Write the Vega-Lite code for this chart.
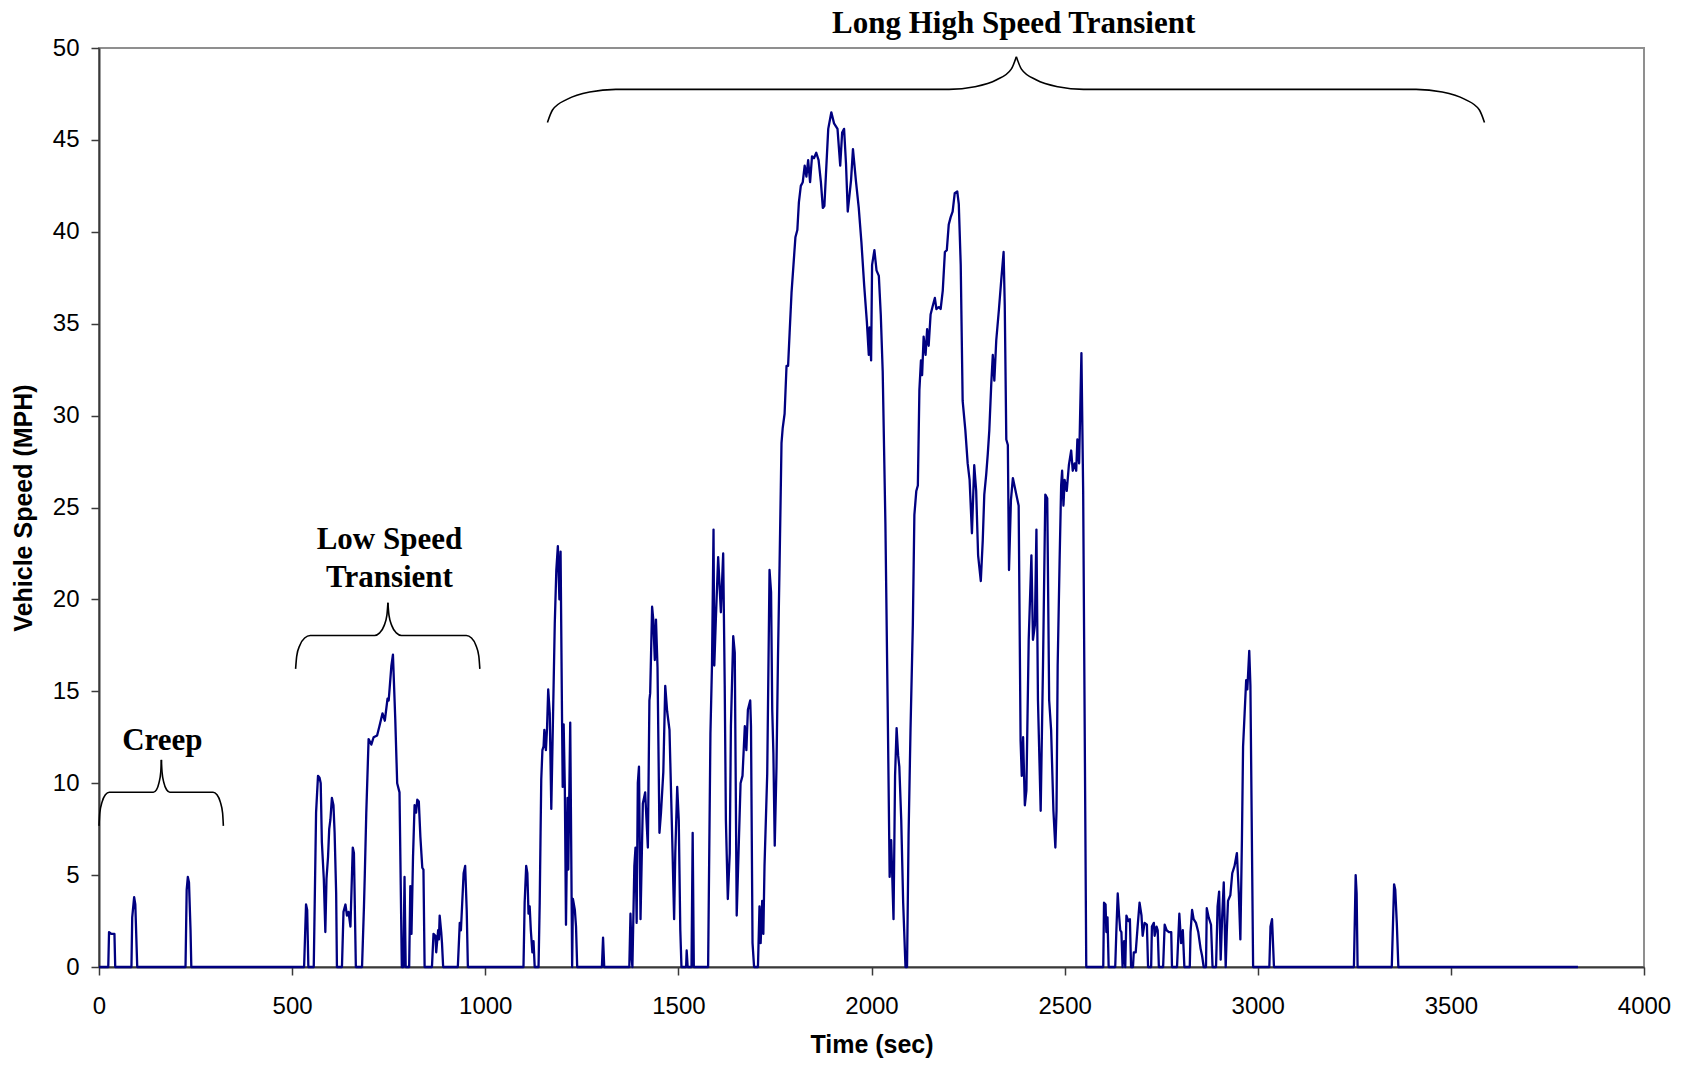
{
  "$schema": "https://vega.github.io/schema/vega-lite/v6.json",
  "width": 1545,
  "height": 919,
  "autosize": {"type": "none"},
  "padding": {"left": 99, "top": 48, "right": 42, "bottom": 99},
  "background": "white",
  "config": {
    "view": {"stroke": "#8f8f8f", "strokeWidth": 2},
    "axis": {
      "grid": false,
      "domainColor": "#3a3a3a",
      "domainWidth": 2,
      "tickColor": "#3a3a3a",
      "tickWidth": 1.5,
      "tickSize": 8,
      "labelFont": "Liberation Sans",
      "labelFontSize": 24,
      "labelColor": "#000000",
      "labelFlush": false,
      "labelOverlap": false,
      "titleFont": "Liberation Sans",
      "titleFontSize": 25,
      "titleFontWeight": "bold",
      "titleColor": "#000000"
    }
  },
  "datasets": {
    "speed": [
      {"t":0,"v":0},{"t":24,"v":0},{"t":26,"v":1.9},{"t":32,"v":1.8},{"t":40,"v":1.8},{"t":42,"v":0},
      {"t":84,"v":0},{"t":86,"v":2.7},{"t":91,"v":3.8},{"t":94,"v":3.4},{"t":99,"v":0},
      {"t":224,"v":0},{"t":227,"v":4.2},{"t":230,"v":4.9},{"t":233,"v":4.6},{"t":237,"v":2.0},{"t":239,"v":0},
      {"t":531,"v":0},{"t":536,"v":3.4},{"t":539,"v":3.1},{"t":542,"v":0},
      {"t":556,"v":0},{"t":562,"v":8.4},{"t":567,"v":10.4},{"t":571,"v":10.3},{"t":574,"v":10.0},{"t":577,"v":6.8},{"t":582,"v":4.8},{"t":586,"v":1.9},{"t":589,"v":4.8},{"t":593,"v":6.0},{"t":596,"v":7.5},{"t":599,"v":8.0},{"t":603,"v":9.2},{"t":607,"v":8.8},{"t":610,"v":7.3},{"t":614,"v":4.0},{"t":616,"v":0},
      {"t":629,"v":0},{"t":633,"v":3.0},{"t":638,"v":3.4},{"t":642,"v":2.8},{"t":646,"v":3.0},{"t":651,"v":2.2},{"t":657,"v":6.5},{"t":660,"v":6.2},{"t":665,"v":0},
      {"t":681,"v":0},{"t":686,"v":3.3},{"t":688,"v":4.9},{"t":692,"v":8.4},{"t":698,"v":12.4},{"t":705,"v":12.1},{"t":711,"v":12.5},{"t":720,"v":12.6},{"t":726,"v":13.1},{"t":734,"v":13.8},{"t":740,"v":13.4},{"t":747,"v":14.6},{"t":750,"v":14.5},{"t":757,"v":16.4},{"t":761,"v":17.0},{"t":767,"v":13.5},{"t":772,"v":10.0},{"t":778,"v":9.5},{"t":784,"v":0},
      {"t":788,"v":0},{"t":791,"v":4.9},{"t":794,"v":0},{"t":803,"v":0},{"t":806,"v":4.4},{"t":809,"v":1.8},{"t":813,"v":6.0},{"t":817,"v":8.8},{"t":821,"v":8.4},{"t":824,"v":9.1},{"t":828,"v":9.0},{"t":832,"v":7.1},{"t":837,"v":5.4},{"t":840,"v":5.3},{"t":843,"v":0},
      {"t":862,"v":0},{"t":866,"v":1.8},{"t":871,"v":1.7},{"t":873,"v":0.8},{"t":878,"v":2.0},{"t":880,"v":1.5},{"t":882,"v":2.8},{"t":886,"v":1.9},{"t":888,"v":1.3},{"t":891,"v":0},
      {"t":929,"v":0},{"t":934,"v":2.4},{"t":937,"v":2.0},{"t":944,"v":5.1},{"t":948,"v":5.5},{"t":952,"v":3.1},{"t":955,"v":0},
      {"t":1099,"v":0},{"t":1102,"v":3.5},{"t":1106,"v":5.5},{"t":1109,"v":5.1},{"t":1112,"v":2.9},{"t":1115,"v":3.3},{"t":1118,"v":2.0},{"t":1122,"v":0.8},{"t":1125,"v":1.4},{"t":1128,"v":0},
      {"t":1138,"v":0},{"t":1141,"v":3.5},{"t":1143,"v":6.9},{"t":1145,"v":10.2},{"t":1148,"v":11.8},{"t":1151,"v":12.0},{"t":1153,"v":12.9},{"t":1157,"v":11.8},{"t":1160,"v":13.0},{"t":1163,"v":15.1},{"t":1167,"v":13.8},{"t":1171,"v":8.6},{"t":1175,"v":13.1},{"t":1180,"v":18.7},{"t":1184,"v":21.6},{"t":1188,"v":22.9},{"t":1192,"v":20.0},{"t":1195,"v":22.6},{"t":1199,"v":13.1},{"t":1200.5,"v":9.8},{"t":1203,"v":13.2},{"t":1206,"v":9.8},{"t":1209,"v":2.3},{"t":1213,"v":9.2},{"t":1215,"v":5.3},{"t":1220,"v":13.3},{"t":1225,"v":0},{"t":1227,"v":3.7},{"t":1232,"v":3.1},{"t":1235,"v":2.2},{"t":1238,"v":0},
      {"t":1302,"v":0},{"t":1305,"v":1.6},{"t":1308,"v":0},
      {"t":1373,"v":0},{"t":1376,"v":2.9},{"t":1379,"v":0.5},{"t":1381,"v":0},{"t":1386,"v":5.5},{"t":1389,"v":6.5},{"t":1392,"v":2.4},{"t":1395,"v":10.0},{"t":1398,"v":10.9},{"t":1402,"v":2.6},{"t":1408,"v":8.9},{"t":1414,"v":9.5},{"t":1421,"v":6.5},{"t":1425,"v":14.5},{"t":1427,"v":14.9},{"t":1432,"v":19.6},{"t":1435,"v":18.9},{"t":1439,"v":16.7},{"t":1442,"v":18.9},{"t":1446,"v":16.3},{"t":1451,"v":7.3},{"t":1455,"v":8.4},{"t":1461,"v":10.6},{"t":1466,"v":15.3},{"t":1471,"v":13.9},{"t":1477,"v":12.9},{"t":1485,"v":6.2},{"t":1489,"v":2.6},{"t":1492,"v":6.2},{"t":1497,"v":9.8},{"t":1501,"v":8.0},{"t":1505,"v":2.0},{"t":1508,"v":0},
      {"t":1520,"v":0},{"t":1521.5,"v":0.9},{"t":1524,"v":0},{"t":1534,"v":0},{"t":1537,"v":7.3},{"t":1540,"v":0},
      {"t":1577,"v":0},{"t":1583,"v":12.7},{"t":1587,"v":16.4},{"t":1591,"v":23.8},{"t":1593,"v":16.4},{"t":1597,"v":18.9},{"t":1603,"v":22.3},{"t":1610,"v":19.3},{"t":1616,"v":22.5},{"t":1620,"v":15.3},{"t":1623,"v":8.0},{"t":1628,"v":3.7},{"t":1633,"v":6.2},{"t":1636,"v":13.1},{"t":1642,"v":18.0},{"t":1646,"v":17.1},{"t":1651,"v":2.8},{"t":1661,"v":10.0},{"t":1666,"v":10.4},{"t":1672,"v":13.1},{"t":1676,"v":11.8},{"t":1680,"v":14.0},{"t":1686,"v":14.5},{"t":1688,"v":13.1},{"t":1692,"v":1.3},{"t":1696,"v":0},
      {"t":1706,"v":0},{"t":1710,"v":3.3},{"t":1713,"v":1.3},{"t":1717,"v":3.6},{"t":1720,"v":1.8},{"t":1723,"v":5.5},{"t":1730,"v":10.5},{"t":1736,"v":21.6},{"t":1740,"v":20.4},{"t":1743,"v":14.0},{"t":1746,"v":11.6},{"t":1749.5,"v":6.6},{"t":1754,"v":10.9},{"t":1758,"v":17.0},{"t":1762,"v":21.9},{"t":1767,"v":28.5},{"t":1770,"v":29.3},{"t":1775,"v":30.1},{"t":1780,"v":32.7},{"t":1784,"v":32.7},{"t":1788,"v":34.5},{"t":1793,"v":36.7},{"t":1798,"v":38.2},{"t":1803,"v":39.7},{"t":1808,"v":40.1},{"t":1812,"v":41.6},{"t":1817,"v":42.5},{"t":1822,"v":42.7},{"t":1827,"v":43.6},{"t":1831.5,"v":43.0},{"t":1836,"v":43.9},{"t":1841,"v":42.7},{"t":1846,"v":44.1},{"t":1851,"v":44.0},{"t":1857,"v":44.3},{"t":1863,"v":43.9},{"t":1869,"v":42.7},{"t":1874,"v":41.3},{"t":1878,"v":41.4},{"t":1882,"v":43.1},{"t":1888,"v":45.6},{"t":1896,"v":46.5},{"t":1903,"v":45.9},{"t":1912,"v":45.6},{"t":1919,"v":43.6},{"t":1924,"v":45.4},{"t":1929,"v":45.6},{"t":1934,"v":43.7},{"t":1938.5,"v":41.1},{"t":1947,"v":42.8},{"t":1952,"v":44.5},{"t":1960,"v":42.7},{"t":1967,"v":41.3},{"t":1974,"v":39.4},{"t":1981,"v":37.1},{"t":1988,"v":35.1},{"t":1993,"v":33.3},{"t":1995,"v":34.8},{"t":1999,"v":33.0},{"t":2001.5,"v":38.2},{"t":2007.5,"v":39.0},{"t":2013,"v":37.9},{"t":2019,"v":37.6},{"t":2024,"v":35.5},{"t":2029,"v":32.4},{"t":2036,"v":24.1},{"t":2042,"v":14.0},{"t":2047,"v":4.9},{"t":2051,"v":6.9},{"t":2057,"v":2.6},{"t":2061,"v":10.4},{"t":2065,"v":13.0},{"t":2069,"v":11.5},{"t":2072,"v":10.9},{"t":2077,"v":8.0},{"t":2082,"v":3.5},{"t":2088,"v":0},
      {"t":2092,"v":0},{"t":2096,"v":7.2},{"t":2101,"v":12.9},{"t":2107,"v":18.6},{"t":2111,"v":24.6},{"t":2116,"v":25.9},{"t":2120,"v":26.2},{"t":2124,"v":31.4},{"t":2128,"v":33.0},{"t":2131,"v":32.2},{"t":2135,"v":34.3},{"t":2140,"v":33.3},{"t":2144,"v":34.7},{"t":2148,"v":33.8},{"t":2153,"v":35.5},{"t":2159,"v":36.0},{"t":2164,"v":36.4},{"t":2168,"v":35.8},{"t":2174,"v":35.9},{"t":2179,"v":35.8},{"t":2184.5,"v":36.8},{"t":2190,"v":38.9},{"t":2195,"v":39.0},{"t":2200,"v":40.4},{"t":2205,"v":40.8},{"t":2210,"v":41.1},{"t":2215.5,"v":42.1},{"t":2222,"v":42.2},{"t":2226,"v":41.5},{"t":2231,"v":38.2},{"t":2236,"v":30.8},{"t":2243,"v":29.2},{"t":2249,"v":27.4},{"t":2254,"v":26.5},{"t":2260,"v":23.6},{"t":2266,"v":27.3},{"t":2271,"v":25.9},{"t":2276,"v":22.4},{"t":2283,"v":21.0},{"t":2288,"v":23.2},{"t":2292,"v":25.7},{"t":2297,"v":26.8},{"t":2301,"v":27.9},{"t":2305,"v":29.2},{"t":2310,"v":31.7},{"t":2314,"v":33.3},{"t":2318,"v":31.9},{"t":2323,"v":34.1},{"t":2330,"v":35.8},{"t":2336,"v":37.4},{"t":2342,"v":38.9},{"t":2345,"v":36.0},{"t":2349,"v":28.7},{"t":2353,"v":28.4},{"t":2356,"v":21.6},{"t":2361,"v":25.4},{"t":2366,"v":26.6},{"t":2371,"v":26.1},{"t":2381,"v":25.1},{"t":2386,"v":12.3},{"t":2389,"v":10.4},{"t":2392.5,"v":12.5},{"t":2397,"v":8.8},{"t":2401,"v":9.6},{"t":2407,"v":17.8},{"t":2414,"v":22.4},{"t":2418,"v":17.8},{"t":2423,"v":18.6},{"t":2427,"v":23.8},{"t":2431,"v":14.5},{"t":2438,"v":8.5},{"t":2444,"v":16.4},{"t":2450,"v":25.7},{"t":2455,"v":25.5},{"t":2460,"v":14.5},{"t":2465,"v":12.9},{"t":2471,"v":8.5},{"t":2476,"v":6.5},{"t":2479,"v":8.5},{"t":2482,"v":16.4},{"t":2487,"v":22.1},{"t":2491,"v":26.2},{"t":2493.5,"v":27.0},{"t":2497,"v":25.1},{"t":2500,"v":26.5},{"t":2505.5,"v":25.9},{"t":2511,"v":27.3},{"t":2517,"v":28.1},{"t":2521,"v":27.0},{"t":2526,"v":27.4},{"t":2530,"v":27.0},{"t":2533,"v":28.7},{"t":2537.5,"v":27.4},{"t":2543.5,"v":33.4},{"t":2548,"v":25.9},{"t":2556,"v":0},
      {"t":2600,"v":0},{"t":2602,"v":3.5},{"t":2606,"v":3.4},{"t":2608,"v":1.9},{"t":2611,"v":2.7},{"t":2614,"v":0},
      {"t":2631,"v":0},{"t":2634,"v":2.0},{"t":2637.5,"v":4.0},{"t":2641,"v":2.8},{"t":2644,"v":2.0},{"t":2647,"v":1.9},{"t":2650,"v":0},{"t":2654,"v":1.4},{"t":2657,"v":0},{"t":2660,"v":2.8},{"t":2665,"v":2.5},{"t":2669,"v":2.6},{"t":2672,"v":0},
      {"t":2677,"v":0},{"t":2679,"v":0.8},{"t":2684,"v":0.8},{"t":2689,"v":2.2},{"t":2694,"v":3.5},{"t":2699,"v":2.8},{"t":2702,"v":1.7},{"t":2707,"v":2.4},{"t":2713,"v":2.3},{"t":2716,"v":0},
      {"t":2724,"v":0},{"t":2726,"v":2.2},{"t":2731,"v":2.4},{"t":2733,"v":1.7},{"t":2738,"v":2.2},{"t":2741,"v":2.0},{"t":2744,"v":0},
      {"t":2755,"v":0},{"t":2759,"v":2.3},{"t":2764,"v":2.0},{"t":2770,"v":1.9},{"t":2776,"v":1.9},{"t":2778,"v":0},
      {"t":2791,"v":0},{"t":2797,"v":2.9},{"t":2801.5,"v":1.3},{"t":2806,"v":2.0},{"t":2810,"v":0},
      {"t":2824,"v":0},{"t":2826,"v":1.9},{"t":2830,"v":3.1},{"t":2834,"v":2.6},{"t":2840,"v":2.4},{"t":2846,"v":1.9},{"t":2852,"v":1.0},{"t":2856,"v":0.6},{"t":2860,"v":0},
      {"t":2866,"v":0},{"t":2868,"v":3.2},{"t":2873,"v":2.7},{"t":2879,"v":2.3},{"t":2883,"v":0},
      {"t":2892,"v":0},{"t":2896,"v":3.3},{"t":2900,"v":4.1},{"t":2904,"v":0.4},{"t":2908,"v":2.8},{"t":2912,"v":4.6},{"t":2917,"v":0},{"t":2920,"v":2.0},{"t":2923,"v":3.6},{"t":2929,"v":3.9},{"t":2934,"v":5.1},{"t":2940,"v":5.5},{"t":2946,"v":6.2},{"t":2951,"v":4.0},{"t":2955,"v":1.5},{"t":2959,"v":6.9},{"t":2962,"v":12.0},{"t":2966,"v":13.8},{"t":2970,"v":15.6},{"t":2973,"v":15.1},{"t":2978,"v":17.2},{"t":2981,"v":15.3},{"t":2988,"v":0},
      {"t":3030,"v":0},{"t":3033,"v":2.2},{"t":3037,"v":2.6},{"t":3042,"v":0},
      {"t":3249,"v":0},{"t":3253.5,"v":5.0},{"t":3256,"v":4.0},{"t":3258.5,"v":0},
      {"t":3347,"v":0},{"t":3353,"v":4.5},{"t":3356,"v":4.2},{"t":3360,"v":2.4},{"t":3364,"v":0},
      {"t":3829,"v":0}
    ],
    "braces": [
      {"part":"creep-left","t":0,"v":7.68},{"part":"creep-left","t":2.0,"v":8.38},{"part":"creep-left","t":7.85,"v":8.97},{"part":"creep-left","t":16.5,"v":9.37},{"part":"creep-left","t":26.8,"v":9.51},
      {"part":"creep-left","t":140.7,"v":9.51},{"part":"creep-left","t":148.7,"v":9.64},{"part":"creep-left","t":155.4,"v":10.03},{"part":"creep-left","t":159.9,"v":10.6},{"part":"creep-left","t":161.5,"v":11.27},
      {"part":"creep-right","t":161.5,"v":11.27},{"part":"creep-right","t":163.2,"v":10.6},{"part":"creep-right","t":167.9,"v":10.03},{"part":"creep-right","t":175.0,"v":9.64},{"part":"creep-right","t":183.3,"v":9.51},
      {"part":"creep-right","t":295.3,"v":9.51},{"part":"creep-right","t":305.5,"v":9.37},{"part":"creep-right","t":314.2,"v":8.97},{"part":"creep-right","t":320.0,"v":8.38},{"part":"creep-right","t":322,"v":7.68},
      {"part":"low-left","t":509,"v":16.22},{"part":"low-left","t":511.9,"v":16.92},{"part":"low-left","t":520.1,"v":17.51},{"part":"low-left","t":532.4,"v":17.9},{"part":"low-left","t":547,"v":18.04},
      {"part":"low-left","t":713.5,"v":18.04},{"part":"low-left","t":726.7,"v":18.18},{"part":"low-left","t":737.9,"v":18.56},{"part":"low-left","t":745.4,"v":19.14},{"part":"low-left","t":748,"v":19.82},
      {"part":"low-right","t":748,"v":19.82},{"part":"low-right","t":750.7,"v":19.14},{"part":"low-right","t":758.3,"v":18.56},{"part":"low-right","t":769.7,"v":18.18},{"part":"low-right","t":783,"v":18.04},
      {"part":"low-right","t":951,"v":18.04},{"part":"low-right","t":964.4,"v":17.9},{"part":"low-right","t":975.7,"v":17.51},{"part":"low-right","t":983.3,"v":16.92},{"part":"low-right","t":986,"v":16.22},
      {"part":"high-left","t":1161,"v":45.95},{"part":"high-left","t":1174.5,"v":46.64},{"part":"high-left","t":1212.8,"v":47.22},{"part":"high-left","t":1270.3,"v":47.61},{"part":"high-left","t":1338,"v":47.75},
      {"part":"high-left","t":2201,"v":47.75},{"part":"high-left","t":2267.6,"v":47.89},{"part":"high-left","t":2324,"v":48.27},{"part":"high-left","t":2361.8,"v":48.85},{"part":"high-left","t":2375,"v":49.53},
      {"part":"high-right","t":2375,"v":49.53},{"part":"high-right","t":2388.2,"v":48.85},{"part":"high-right","t":2426,"v":48.27},{"part":"high-right","t":2482.4,"v":47.89},{"part":"high-right","t":2549,"v":47.75},
      {"part":"high-right","t":3410,"v":47.75},{"part":"high-right","t":3477.7,"v":47.61},{"part":"high-right","t":3535.2,"v":47.22},{"part":"high-right","t":3573.5,"v":46.64},{"part":"high-right","t":3587,"v":45.95}
    ],
    "labels": [
      {"text":"Creep","t":164,"v":11.83},
      {"text":"Low Speed","t":752,"v":22.73},
      {"text":"Transient","t":752,"v":20.69},
      {"text":"Long High Speed Transient","t":2368,"v":50.8}
    ]
  },
  "layer": [
    {
      "data": {"name": "speed"},
      "mark": {"type": "line", "color": "#000080", "strokeWidth": 2.3, "strokeJoin": "round"},
      "encoding": {
        "x": {
          "field": "t", "type": "quantitative",
          "scale": {"domain": [0, 4000], "nice": false, "zero": false},
          "axis": {
            "title": "Time (sec)",
            "format": "d",
            "values": [0, 500, 1000, 1500, 2000, 2500, 3000, 3500, 4000],
            "labelPadding": 19,
            "titleY": 85,
            "titleBaseline": "alphabetic"
          }
        },
        "y": {
          "field": "v", "type": "quantitative",
          "scale": {"domain": [0, 50], "nice": false},
          "axis": {
            "title": "Vehicle Speed (MPH)",
            "format": "d",
            "values": [0, 5, 10, 15, 20, 25, 30, 35, 40, 45, 50],
            "labelPadding": 12,
            "titleX": -67.5,
            "titleY": 459.5,
            "titleAngle": -90,
            "titleAlign": "center",
            "titleBaseline": "alphabetic"
          }
        }
      }
    },
    {
      "data": {"name": "braces"},
      "mark": {"type": "line", "color": "#000000", "strokeWidth": 1.6, "interpolate": "monotone"},
      "encoding": {
        "x": {"field": "t", "type": "quantitative"},
        "y": {"field": "v", "type": "quantitative"},
        "detail": {"field": "part"}
      }
    },
    {
      "data": {"name": "labels"},
      "mark": {"type": "text", "font": "Liberation Serif", "fontWeight": "bold", "fontSize": 31, "align": "center", "baseline": "alphabetic", "color": "#000000"},
      "encoding": {
        "x": {"field": "t", "type": "quantitative"},
        "y": {"field": "v", "type": "quantitative"},
        "text": {"field": "text"}
      }
    }
  ]
}
